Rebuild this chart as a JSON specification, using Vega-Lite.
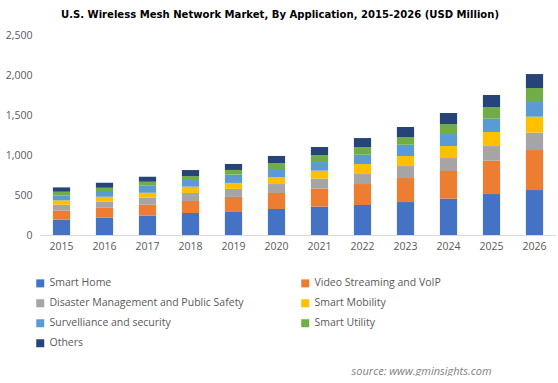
{
  "$schema": "https://vega.github.io/schema/vega-lite/v6.json",
  "width": 516,
  "height": 200,
  "padding": {"top": 8, "left": 5, "right": 0, "bottom": 0},
  "background": "white",
  "title": {
    "text": "U.S.  Wireless Mesh Network Market, By  Application,  2015-2026 (USD Million)",
    "font": "DejaVu Sans Condensed",
    "fontSize": 11.2,
    "fontWeight": "bold",
    "color": "#000000",
    "anchor": "middle",
    "dx": -18,
    "offset": 10
  },
  "data": {
    "values": [
      {"year": "2015", "segment": "Smart Home", "value": 192},
      {"year": "2015", "segment": "Video Streaming and VoIP", "value": 112},
      {"year": "2015", "segment": "Disaster Management and Public Safety", "value": 75},
      {"year": "2015", "segment": "Smart Mobility", "value": 54},
      {"year": "2015", "segment": "Survelliance and security", "value": 62},
      {"year": "2015", "segment": "Smart Utility", "value": 46},
      {"year": "2015", "segment": "Others", "value": 54},
      {"year": "2016", "segment": "Smart Home", "value": 217},
      {"year": "2016", "segment": "Video Streaming and VoIP", "value": 125},
      {"year": "2016", "segment": "Disaster Management and Public Safety", "value": 75},
      {"year": "2016", "segment": "Smart Mobility", "value": 62},
      {"year": "2016", "segment": "Survelliance and security", "value": 71},
      {"year": "2016", "segment": "Smart Utility", "value": 42},
      {"year": "2016", "segment": "Others", "value": 62},
      {"year": "2017", "segment": "Smart Home", "value": 245},
      {"year": "2017", "segment": "Video Streaming and VoIP", "value": 133},
      {"year": "2017", "segment": "Disaster Management and Public Safety", "value": 88},
      {"year": "2017", "segment": "Smart Mobility", "value": 62},
      {"year": "2017", "segment": "Survelliance and security", "value": 88},
      {"year": "2017", "segment": "Smart Utility", "value": 50},
      {"year": "2017", "segment": "Others", "value": 62},
      {"year": "2018", "segment": "Smart Home", "value": 275},
      {"year": "2018", "segment": "Video Streaming and VoIP", "value": 150},
      {"year": "2018", "segment": "Disaster Management and Public Safety", "value": 100},
      {"year": "2018", "segment": "Smart Mobility", "value": 79},
      {"year": "2018", "segment": "Survelliance and security", "value": 83},
      {"year": "2018", "segment": "Smart Utility", "value": 50},
      {"year": "2018", "segment": "Others", "value": 75},
      {"year": "2019", "segment": "Smart Home", "value": 288},
      {"year": "2019", "segment": "Video Streaming and VoIP", "value": 188},
      {"year": "2019", "segment": "Disaster Management and Public Safety", "value": 100},
      {"year": "2019", "segment": "Smart Mobility", "value": 75},
      {"year": "2019", "segment": "Survelliance and security", "value": 104},
      {"year": "2019", "segment": "Smart Utility", "value": 58},
      {"year": "2019", "segment": "Others", "value": 75},
      {"year": "2020", "segment": "Smart Home", "value": 325},
      {"year": "2020", "segment": "Video Streaming and VoIP", "value": 200},
      {"year": "2020", "segment": "Disaster Management and Public Safety", "value": 112},
      {"year": "2020", "segment": "Smart Mobility", "value": 88},
      {"year": "2020", "segment": "Survelliance and security", "value": 100},
      {"year": "2020", "segment": "Smart Utility", "value": 75},
      {"year": "2020", "segment": "Others", "value": 88},
      {"year": "2021", "segment": "Smart Home", "value": 354},
      {"year": "2021", "segment": "Video Streaming and VoIP", "value": 225},
      {"year": "2021", "segment": "Disaster Management and Public Safety", "value": 125},
      {"year": "2021", "segment": "Smart Mobility", "value": 100},
      {"year": "2021", "segment": "Survelliance and security", "value": 108},
      {"year": "2021", "segment": "Smart Utility", "value": 88},
      {"year": "2021", "segment": "Others", "value": 100},
      {"year": "2022", "segment": "Smart Home", "value": 375},
      {"year": "2022", "segment": "Video Streaming and VoIP", "value": 262},
      {"year": "2022", "segment": "Disaster Management and Public Safety", "value": 125},
      {"year": "2022", "segment": "Smart Mobility", "value": 125},
      {"year": "2022", "segment": "Survelliance and security", "value": 117},
      {"year": "2022", "segment": "Smart Utility", "value": 96},
      {"year": "2022", "segment": "Others", "value": 112},
      {"year": "2023", "segment": "Smart Home", "value": 412},
      {"year": "2023", "segment": "Video Streaming and VoIP", "value": 300},
      {"year": "2023", "segment": "Disaster Management and Public Safety", "value": 150},
      {"year": "2023", "segment": "Smart Mobility", "value": 125},
      {"year": "2023", "segment": "Survelliance and security", "value": 142},
      {"year": "2023", "segment": "Smart Utility", "value": 96},
      {"year": "2023", "segment": "Others", "value": 125},
      {"year": "2024", "segment": "Smart Home", "value": 454},
      {"year": "2024", "segment": "Video Streaming and VoIP", "value": 346},
      {"year": "2024", "segment": "Disaster Management and Public Safety", "value": 162},
      {"year": "2024", "segment": "Smart Mobility", "value": 150},
      {"year": "2024", "segment": "Survelliance and security", "value": 150},
      {"year": "2024", "segment": "Smart Utility", "value": 125},
      {"year": "2024", "segment": "Others", "value": 138},
      {"year": "2025", "segment": "Smart Home", "value": 512},
      {"year": "2025", "segment": "Video Streaming and VoIP", "value": 417},
      {"year": "2025", "segment": "Disaster Management and Public Safety", "value": 183},
      {"year": "2025", "segment": "Smart Mobility", "value": 175},
      {"year": "2025", "segment": "Survelliance and security", "value": 167},
      {"year": "2025", "segment": "Smart Utility", "value": 146},
      {"year": "2025", "segment": "Others", "value": 150},
      {"year": "2026", "segment": "Smart Home", "value": 562},
      {"year": "2026", "segment": "Video Streaming and VoIP", "value": 500},
      {"year": "2026", "segment": "Disaster Management and Public Safety", "value": 217},
      {"year": "2026", "segment": "Smart Mobility", "value": 200},
      {"year": "2026", "segment": "Survelliance and security", "value": 183},
      {"year": "2026", "segment": "Smart Utility", "value": 175},
      {"year": "2026", "segment": "Others", "value": 175}
    ]
  },
  "transform": [
    {"calculate": "indexof(['Smart Home', 'Video Streaming and VoIP', 'Disaster Management and Public Safety', 'Smart Mobility', 'Survelliance and security', 'Smart Utility', 'Others'], datum.segment)", "as": "stackOrder"}
  ],
  "mark": {"type": "bar"},
  "encoding": {
    "x": {
      "field": "year",
      "type": "ordinal",
      "scale": {"paddingInner": 0.6, "paddingOuter": 0.3},
      "axis": {
        "title": "source: www.gminsights.com",
        "titleFont": "Open Sans",
        "titleFontStyle": "italic",
        "titleFontWeight": "normal",
        "titleFontSize": 11,
        "titleColor": "#7f7f7f",
        "titleAnchor": "end",
        "titleAlign": "right",
        "titleBaseline": "middle",
        "titleX": 451,
        "titleY": 136,
        "labelAngle": 0,
        "labelFont": "Open Sans",
        "labelFontSize": 10.5,
        "labelColor": "#595959",
        "labelPadding": 6,
        "ticks": false,
        "domainColor": "#d9d9d9",
        "domainWidth": 1
      }
    },
    "y": {
      "field": "value",
      "type": "quantitative",
      "stack": "zero",
      "scale": {"domain": [0, 2500]},
      "axis": {
        "title": null,
        "values": [0, 500, 1000, 1500, 2000, 2500],
        "format": ",.0f",
        "grid": false,
        "domain": false,
        "ticks": false,
        "labelFont": "Open Sans",
        "labelFontSize": 10.5,
        "labelColor": "#595959",
        "labelPadding": 8
      }
    },
    "order": {"field": "stackOrder", "type": "quantitative", "sort": "ascending"},
    "color": {
      "field": "segment",
      "type": "nominal",
      "scale": {
        "domain": ["Smart Home", "Disaster Management and Public Safety", "Survelliance and security", "Others", "Video Streaming and VoIP", "Smart Mobility", "Smart Utility"],
        "range": ["#4472C4", "#A5A5A5", "#5B9BD5", "#264478", "#ED7D31", "#FFC000", "#70AD47"]
      },
      "legend": {
        "title": null,
        "orient": "none",
        "legendX": -5,
        "legendY": 243,
        "columns": 2,
        "columnPadding": 56,
        "rowPadding": 9,
        "symbolType": "square",
        "symbolSize": 64,
        "symbolStrokeWidth": 0,
        "labelFont": "Open Sans",
        "labelFontSize": 10.5,
        "labelColor": "#595959",
        "labelLimit": 300
      }
    }
  },
  "config": {
    "view": {"stroke": null}
  }
}
